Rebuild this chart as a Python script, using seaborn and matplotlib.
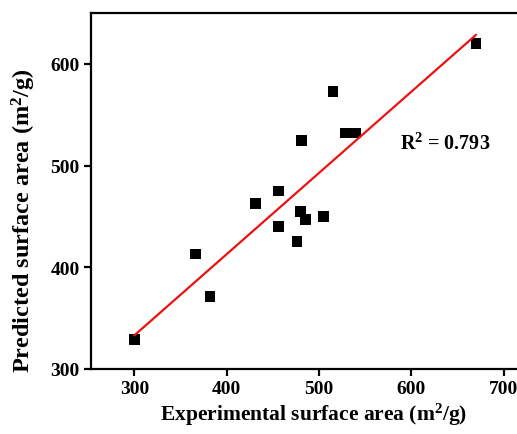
import matplotlib
matplotlib.use("Agg")
import matplotlib.pyplot as plt
import seaborn as sns
import pandas as pd

experimental = [300, 366, 382, 431, 456, 456, 476, 480, 485, 505, 481, 515, 529, 540, 670]
predicted = [329, 413, 371, 463, 475, 440, 425, 455, 447, 450, 525, 573, 532, 532, 620]
x_ticks = [300, 400, 500, 600, 700]
y_ticks = [300, 400, 500, 600]
r2_text = r"R$^{2}$ = 0.793"

sns.set_theme(style="ticks")
plt.rcParams['font.family'] = ['Liberation Serif', 'DejaVu Serif']
plt.rcParams['font.weight'] = 'bold'
plt.rcParams['text.color'] = 'black'
plt.rcParams['axes.labelcolor'] = 'black'
plt.rcParams['mathtext.fontset'] = 'custom'
plt.rcParams['mathtext.rm'] = 'Liberation Serif:bold'
plt.rcParams['mathtext.it'] = 'Liberation Serif:bold'
plt.rcParams['mathtext.bf'] = 'Liberation Serif:bold'

df = pd.DataFrame({"Experimental": experimental, "Predicted": predicted})

fig = plt.figure(figsize=(5.17, 4.35), dpi=100)
ax = fig.add_axes([91/517, 65/435, 445/517, 356/435])

sns.regplot(data=df, x="Experimental", y="Predicted", ax=ax, ci=None,
            marker="s", truncate=True,
            scatter_kws=dict(s=60, color="black", edgecolors="none", alpha=1),
            line_kws=dict(color="#ee1111", lw=1.6))

ax.set_xlim(253, 735)
ax.set_ylim(300, 650)
ax.set_xticks(x_ticks)
ax.set_yticks(y_ticks)
ax.tick_params(direction="out", length=5, width=1.6, labelsize=14, colors="black", pad=3)
for lab in ax.get_xticklabels() + ax.get_yticklabels():
    lab.set_fontweight("bold")
for sp in ax.spines.values():
    sp.set_linewidth(1.6)
    sp.set_color("black")
    sp.set_visible(True)

ax.set_xlabel("Experimental surface area (m$^{2}$/g)", fontsize=15.5, fontweight="bold", labelpad=3)
ax.set_ylabel("Predicted surface area (m$^{2}$/g)", fontsize=17.5, fontweight="bold")
ax.yaxis.set_label_coords(-0.118, 0.42)

ax.text(588, 522, r2_text, fontsize=14.5, fontweight="bold", va="center", ha="left")

fig.savefig("out.png", dpi=100)
